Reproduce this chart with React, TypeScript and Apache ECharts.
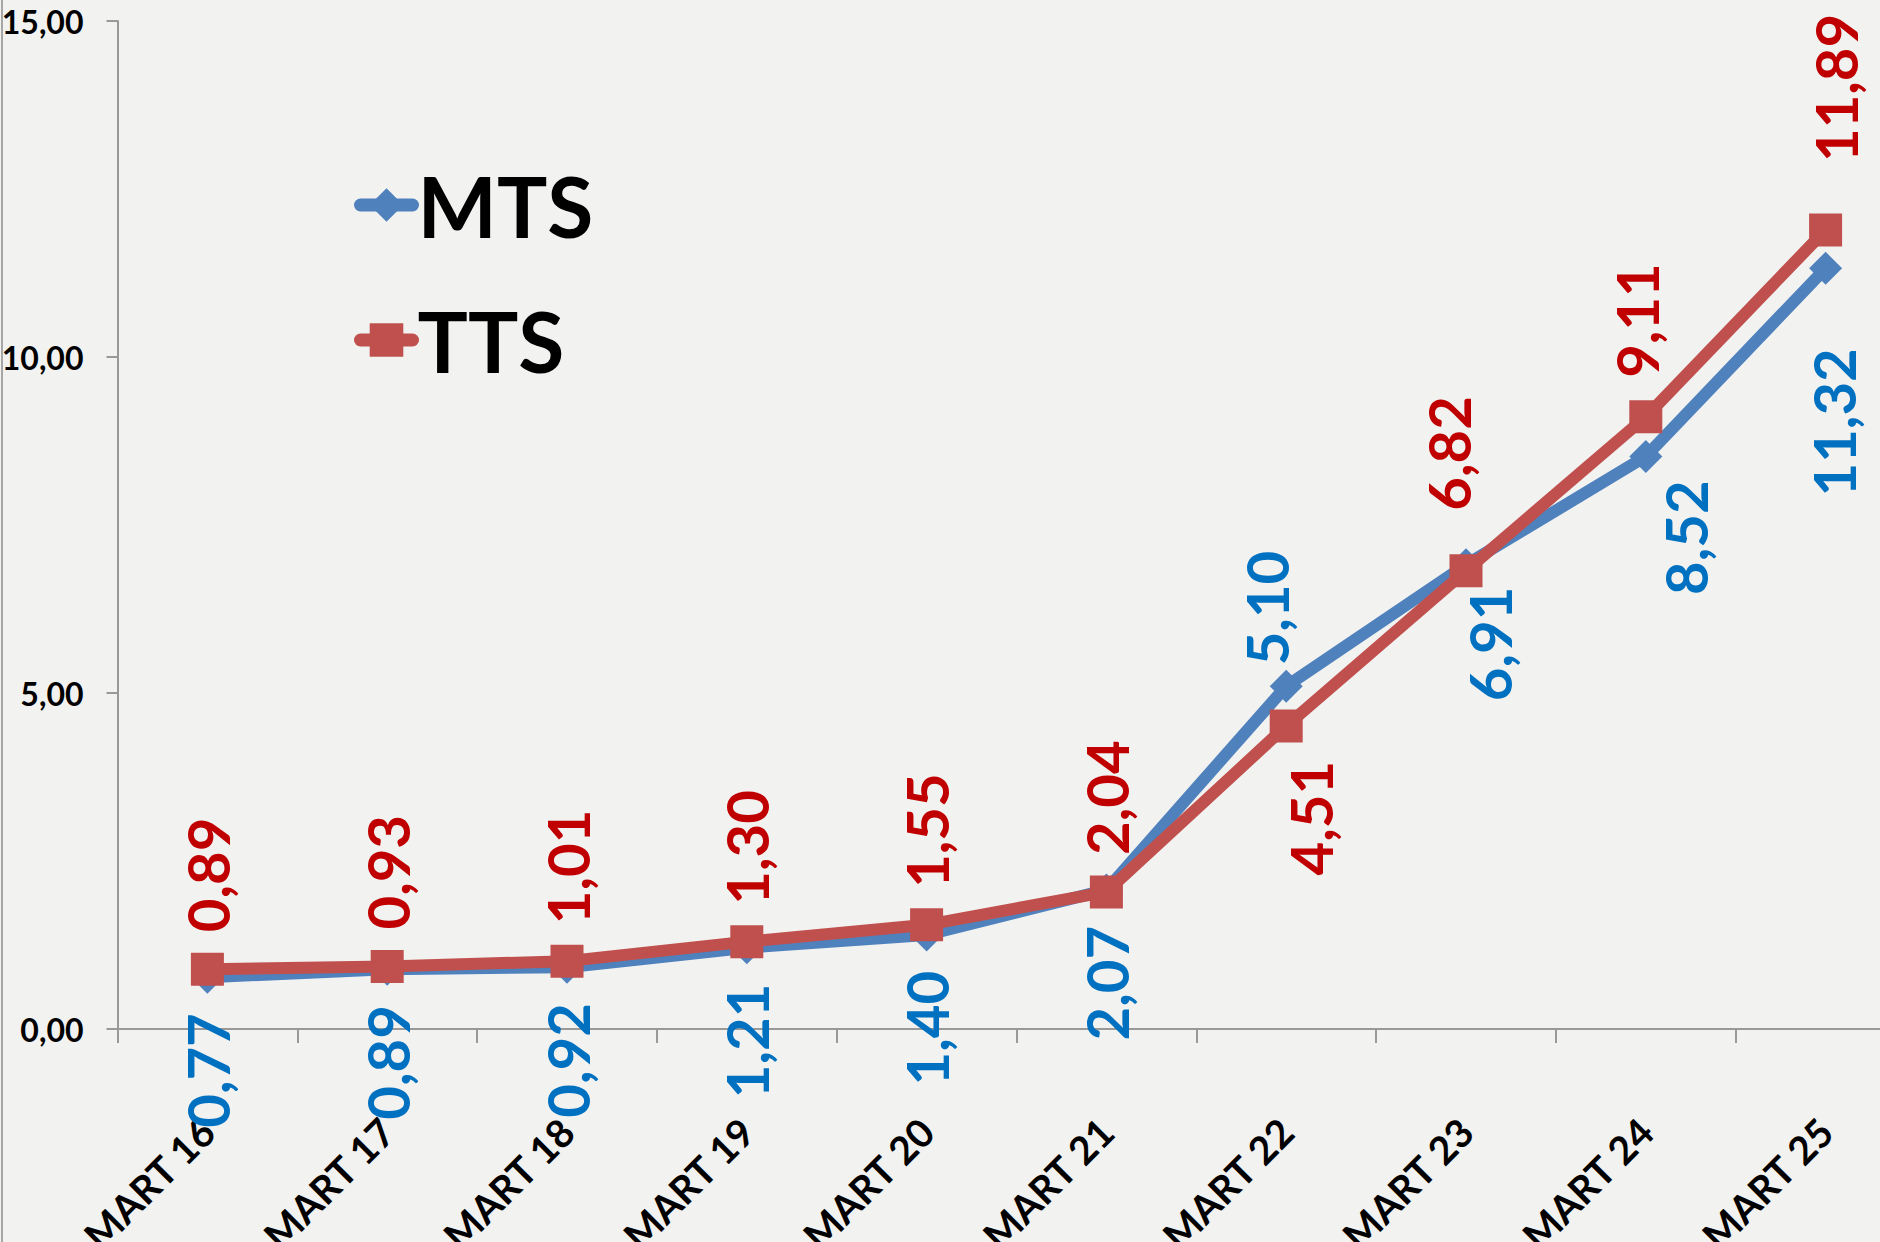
import React, { useEffect, useRef } from "react";
import * as echarts from "echarts";

const categories = ["MART 16", "MART 17", "MART 18", "MART 19", "MART 20", "MART 21", "MART 22", "MART 23", "MART 24", "MART 25"];
const mtsValues = [0.77, 0.89, 0.92, 1.21, 1.4, 2.07, 5.1, 6.91, 8.52, 11.32];
const ttsValues = [0.89, 0.93, 1.01, 1.3, 1.55, 2.04, 4.51, 6.82, 9.11, 11.89];
const yTicks = { min: 0, max: 15, interval: 5 };

const FONT = "Lato, 'Noto Sans', sans-serif";
const SYMBOL = 33;

type Tweak = { pos?: "top" | "bottom"; gap?: number; dx?: number };
const mtsTweaks: Record<number, Tweak> = {
  6: { pos: "top", gap: 21, dx: -20 },
  7: { gap: 22, dx: 23 },
  8: { gap: 24, dx: 40 },
  9: { gap: 80, dx: 8 },
};
const ttsTweaks: Record<number, Tweak> = {
  6: { pos: "bottom", gap: 35, dx: 24 },
  7: { gap: 60, dx: -18 },
  8: { gap: 39, dx: -9 },
  9: { gap: 68, dx: 10 },
};

const fmt = (v: number) => v.toFixed(2).replace(".", ",");

// label offset is expressed in the rotated (90°) frame: [-screenDy, screenDx]
function buildData(values: number[], defPos: "top" | "bottom", defGap: number, tweaks: Record<number, Tweak>) {
  return values.map((v, i) => {
    const t = tweaks[i] || {};
    const pos = t.pos || defPos;
    const gap = t.gap ?? defGap;
    return {
      value: v,
      label: {
        position: pos,
        distance: gap - SYMBOL / 2,
        offset: [0, t.dx || 0],
        align: pos === "top" ? "left" : "right",
        verticalAlign: "middle",
      },
    };
  });
}

export default function App() {
  const ref = useRef<HTMLDivElement>(null);
  useEffect(() => {
    if (!ref.current) return;
    const chart = echarts.init(ref.current, undefined, { renderer: "svg" });
    const labelBase = {
      show: true,
      rotate: 90,
      fontFamily: FONT,
      fontWeight: "bold",
      fontSize: 58,
      formatter: (p: any) => fmt(p.value),
    };
    chart.setOption({
      animation: false,
      backgroundColor: "#f2f2f1",
      textStyle: { fontFamily: FONT },
      graphic: [
        { type: "line", shape: { x1: 2, y1: 0, x2: 2, y2: 1242 }, style: { stroke: "#a6a6a6", lineWidth: 2 } },
      ],
      legend: {
        orient: "vertical",
        left: 349,
        top: 158,
        itemWidth: 52,
        itemHeight: 42,
        itemGap: 51,
        lineStyle: { width: 13, cap: "round" },
        textStyle: { fontFamily: FONT, fontWeight: "bold", fontSize: 84, color: "#000" },
        data: ["MTS", "TTS"],
      },
      grid: { left: 117.5, top: 21, bottom: 213, right: 4.5, outerBoundsMode: "none", containLabel: false },
      xAxis: {
        type: "category",
        data: categories,
        boundaryGap: true,
        axisLine: { lineStyle: { color: "#999", width: 2 } },
        axisTick: { show: true, length: 14, interval: 0, lineStyle: { color: "#999", width: 2 } },
        axisLabel: {
          interval: 0,
          rotate: 45,
          margin: 96,
          fontFamily: FONT,
          fontWeight: "bold",
          fontSize: 39,
          color: "#000",
        },
        splitLine: { show: false },
      },
      yAxis: {
        type: "value",
        min: yTicks.min,
        max: yTicks.max,
        interval: yTicks.interval,
        axisLine: { show: true, lineStyle: { color: "#999", width: 2 } },
        axisTick: { show: true, length: 11, lineStyle: { color: "#999", width: 2 } },
        axisLabel: {
          margin: 34,
          fontFamily: FONT,
          fontWeight: "bold",
          fontSize: 32,
          color: "#000",
          formatter: (v: number) => fmt(v),
        },
        splitLine: { show: false },
      },
      series: [
        {
          name: "MTS",
          type: "line",
          symbol: "diamond",
          symbolSize: SYMBOL,
          data: buildData(mtsValues, "bottom", 36, mtsTweaks),
          lineStyle: { color: "#4F81BD", width: 12 },
          itemStyle: { color: "#4F81BD" },
          label: { ...labelBase, color: "#0070C0" },
          z: 2,
        },
        {
          name: "TTS",
          type: "line",
          symbol: "rect",
          symbolSize: SYMBOL,
          data: buildData(ttsValues, "top", 37, ttsTweaks),
          lineStyle: { color: "#C0504D", width: 12 },
          itemStyle: { color: "#C0504D" },
          label: { ...labelBase, color: "#C00000" },
          z: 3,
        },
      ],
    });
    return () => chart.dispose();
  }, []);
  return (
    <div style={{ position: "absolute", left: 0, top: 0, width: 1880, height: 1242, overflow: "hidden" }}>
      <div ref={ref} style={{ width: 1920, height: 1242 }} />
    </div>
  );
}
